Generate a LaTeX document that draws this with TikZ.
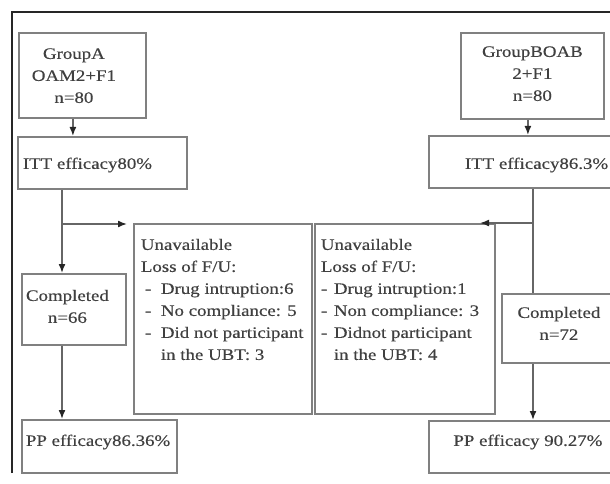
\documentclass[tikz,border=0pt]{standalone}
\usepackage{fontspec}
\setmainfont{Liberation Serif}[FakeStretch=1.18,FakeBold=0.4]
\usepackage{xcolor}
\usetikzlibrary{arrows.meta,positioning}

% fixed-size text block: width, height, first baseline, body
\newcommand{\intext}[4]{\parbox[t][#2][t]{#1}{\rule{0pt}{#3}#4}}

\begin{document}
\begin{tikzpicture}[
  x=1pt, y=-1pt,
  font=\fontsize{16}{22}\selectfont,
  box/.style  = {draw=black!50, line width=1.8pt, anchor=north west,
                 inner sep=0pt, text=black!75},
  lin/.style  = {draw=black!60, line width=1.6pt},
  arr/.style  = {lin, -{Latex[length=9pt,width=7pt,color=black!85]}},
  frame/.style= {draw=black!85, line width=1.6pt}
]
\path[use as bounding box, clip] (0,0) rectangle (610,484);
%% Outer frame (top and left only)
\draw[frame] (12,473) -- (12,12) -- (612,12);
%% Group A branch
\node[box] (grpA) at (18,32)
  {\intext{127pt}{85pt}{26pt}{\centering\rightskip=17pt plus 1fil\relax
   GroupA\\OAM2+F1\\n=80}};
\node[box] (ittA) at (17,136)
  {\intext{169pt}{52pt}{32pt}{\raggedright\leftskip=5pt\relax ITT efficacy80\%}};
\node[box] (complA) at (21,273)
  {\intext{104pt}{71pt}{27pt}{\centering\rightskip=13pt plus 1fil\relax
   Completed\\n=66}};
\node[box] (ppA) at (21,419)
  {\intext{155pt}{53pt}{26pt}{\raggedright\leftskip=4pt\relax PP efficacy86.36\%}};
%% Group B branch
\node[box] (grpB) at (460,32)
  {\intext{143pt}{86pt}{24pt}{\centering GroupBOAB\\2+F1\\n=80}};
\node[box] (ittB) at (428,135)
  {\intext{198pt}{52pt}{33pt}{\raggedright\leftskip=36pt\relax ITT efficacy86.3\%}};
\node[box] (complB) at (501,293)
  {\intext{114pt}{69pt}{24pt}{\centering Completed\\n=72}};
\node[box] (ppB) at (428,420)
  {\intext{198pt}{52pt}{25pt}{\centering PP efficacy 90.27\%}};
%% Losses
\node[box] (unA) at (133,223)
  {\intext{178pt}{190pt}{26pt}{\raggedright\leftskip=7pt\relax
   Unavailable\\
   Loss of F/U:\\
   \hspace*{4pt}\makebox[16pt][l]{-}Drug intruption:6\\
   \hspace*{4pt}\makebox[16pt][l]{-}No compliance: 5\\
   \hspace*{4pt}\makebox[16pt][l]{-}Did not participant\\
   \hspace*{20pt}in the UBT: 3}};
\node[box] (unB) at (314,223)
  {\intext{180pt}{190pt}{26pt}{\raggedright\leftskip=6pt\relax
   Unavailable\\
   Loss of F/U:\\
   \makebox[13pt][l]{-}Drug intruption:1\\
   \makebox[13pt][l]{-}Non compliance: 3\\
   \makebox[13pt][l]{-}Didnot participant\\
   \hspace*{13pt}in the UBT: 4}};
%% Flow A
\coordinate (jA) at (62,224);
\coordinate (tA) at (127,224);
\draw[arr] ([xshift=-9.5pt]grpA.south) -- ([xshift=-9.5pt]grpA.south |- ittA.north);
\draw[lin] (ittA.south -| jA) -- (jA);
\draw[arr] (jA) -- (complA.north -| jA);
\draw[arr] (jA) -- (tA);
\draw[arr] (complA.south -| jA) -- (ppA.north -| jA);
%% Flow B
\coordinate (jB) at (533,223);
\coordinate (tB) at (480,223);
\draw[arr] ([xshift=-4.5pt]grpB.south) -- ([xshift=-4.5pt]grpB.south |- ittB.north);
\draw[lin] (ittB.south -| jB) -- (complB.north -| jB);
\draw[arr] (jB) -- (tB);
\draw[arr] (complB.south -| jB) -- (ppB.north -| jB);
\end{tikzpicture}
\end{document}
